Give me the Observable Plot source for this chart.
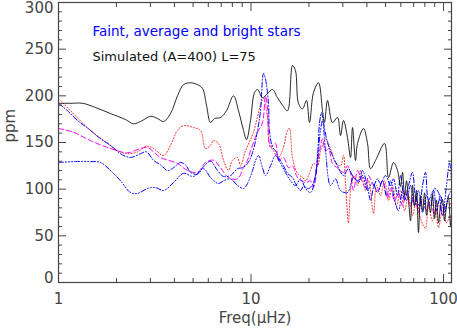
<!DOCTYPE html>
<html><head><meta charset="utf-8">
<script src="https://cdn.jsdelivr.net/npm/d3@7"></script>
<script src="https://cdn.jsdelivr.net/npm/@observablehq/plot@0.6"></script>
<style>
html,body{margin:0;padding:0;background:#fff;}
#chart svg{display:block;}
</style></head><body><div id="chart"></div>
<script>
// ---- data (frequency in µHz, amplitude in ppm) ----
const blackFreq = [1.0,1.154,1.333,1.556,1.863,2.229,2.452,2.667,3.006,3.268,3.512,3.818,4.152,4.46,4.85,5.273,5.598,5.872,6.16,6.462,6.943,7.459,8.11,8.609,9.141,9.475,9.94,10.43,10.81,11.47,12.18,12.93,13.72,14.57,15.47,16.42,17.02,17.64,18.51,19.42,20.13,21.12,22.42,23.52,24.09,24.97,26.5,28.13,29.17,30.23,31.7,32.88,33.67,34.9,35.74,38.41,40.29,41.76,44.33,49.38,51.8,54.99,57.68,59.79,61.25,62.7,64.2,65.8,67.4,69.0,70.7,72.4,74.1,75.9,77.8,79.7,81.6,83.5,85.6,87.6,89.8,91.9,94.2,96.5,98.8,101.2,103.6,106.1,108.7,110];
const blackPpm  = [192,192,192,187.5,181,174.6,170,172.5,178,175.7,172.5,181,200,212,214,212,208,190,171.4,175.7,176.8,184,200,184,163,153,173.6,203.6,206.8,198,202.5,206.8,198,190,184,232.5,227,192,186,195,171.4,203.6,214,184,171.4,195,171.4,176.8,157.5,173.6,155.4,134,166,130.7,149,165,149,122,130.7,149,112.5,128.6,120,103,118,93,109,88,66,104,82,98.6,53.6,93,77,96,72,88,75,95,68.6,88,64,82,89,66,82,91,61,72];

const redFreq = [1.0,1.154,1.466,1.797,2.025,2.283,2.573,2.865,3.116,3.512,3.818,4.152,4.46,5.027,5.466,5.802,6.16,6.385,6.779,7.197,7.64,8.014,8.507,8.819,9.362,10.30,11.20,11.61,12.18,12.47,13.08,13.89,14.75,15.47,15.84,16.42,17.43,18.51,19.19,20.38,21.12,22.15,22.96,23.52,24.38,25.88,27.47,29.17,30.23,30.96,32.08,32.88,34.08,35.74,37.06,39.33,40.77,43.28,44.86,47.07,49.38,51.8,54.33,57.0,59.79,62.7,65.8,69.0,72.4,75.9,80.6,83.5,87.6,90.9,94.2,98.8,103.6,108.7,110];
const redPpm  = [197,184,163,149,141.4,138,140,146,143.6,136,147,163,168,166,163,143.6,147,152,149,131,120,131,134,125,141,161,190,197,176,149,141,134,145,163,165,134,117,112.5,109,120,127.5,125,141,147,154,143.6,128.6,125,136,107,64,98.6,114.6,104,120,98.6,109,74,104,93,109,88,104,82,98.6,77,93,72,88,68.6,58,82,66,79,59,77,64,72,68.6];

const magentaFreq = [1.0,1.196,1.466,1.863,2.283,2.667,2.899,3.388,4.152,4.678,5.273,5.802,6.385,6.943,7.64,8.507,9.141,9.589,9.94,10.81,11.47,11.89,12.18,12.63,13.40,13.89,14.75,15.66,16.42,17.43,19.19,20.38,21.12,22.42,23.52,24.38,25.27,26.5,28.47,30.23,31.7,32.88,34.08,35.74,37.06,39.33,40.77,42.77,45.4,48.21,51.18,53.05,55.64,58.37,61.25,64.2,67.4,70.7,74.1,77.8,81.6,85.6,89.8,94.2,98.8,103.6,110];
const magentaPpm  = [165,161,152,143.6,139,143.6,144.6,134,127.5,120,118,128.6,131,123,112.5,111,123,131,141,161,171,200,187,145,149,131,134,123,125,112.5,107,109,102,134,154,141,143.6,127.5,122,118,125,117,98.6,120,112.5,102,114.6,106,98.6,109,90,100.7,88,95.4,82,98.6,82,93,75,89.6,77,88,72,85.7,72,82.5,84.6];

const blueAFreq = [1.0,1.114,1.255,1.466,1.653,1.863,2.1,2.366,2.667,2.865,3.116,3.388,3.684,3.958,4.303,4.568,4.85,5.273,5.665,6.16,6.698,7.197,7.825,8.507,9.032,9.589,10.18,10.81,11.2,11.61,11.89,12.32,12.47,12.93,13.4,13.89,14.75,15.47,16.42,17.02,18.08,18.73,19.89,21.12,22.15,22.69,23.24,23.8,24.97,26.5,28.13,30.23,32.08,34.08,36.17,37.95,40.29,41.76,43.28,45.4,47.07,49.97,53.05,54.99,57.68,59.79,62.7,65.8,69.0,71.5,75.0,77.8,80.6,83.5,88.7,91.9,96.5,101.2,106.1,110];
const blueAPpm  = [192,184,173.6,163,154,147,138,134,138,140,131,126,120,123,128.6,126,118,116,124,130,120,113.6,114.6,122,123,127.5,139,163,184,224,218,192,163,145,141,134,125,117,112.5,106,98.6,103,100.7,107,136,171,182,171,150,136,125,114.6,122,112.5,109,120,102,88,102,111,106,114.6,104,111,93,114.6,88,104,118,93,82.5,104,118,88,98.6,77,93,75,93,98.6];

const blueBFreq = [1.0,1.225,1.466,1.653,1.863,2.1,2.366,2.573,2.899,3.191,3.512,3.958,4.46,5.027,5.665,6.16,6.779,7.197,7.825,8.507,9.141,9.589,10.18,10.55,10.94,11.47,11.89,12.63,13.4,14.23,15.1,16.04,17.02,18.08,19.19,20.38,21.63,22.96,23.52,24.38,25.88,27.47,29.17,31.7,34.08,36.17,37.95,40.29,42.77,45.4,48.21,50.57,53.05,55.64,58.37,61.25,64.2,67.4,70.7,74.1,77.8,81.6,85.6,89.8,94.2,98.8,103.6,107.4,110];
const blueBPpm  = [128.6,129.6,129.6,128.6,120,109,96.4,95.4,100.7,101.8,98.6,107,117,113.6,122,112.5,106,109,111,104,100.7,106,120,130.7,136,123,114.6,125,136,127.5,118,109,104,111,100.7,96.4,114.6,163,173.6,141,104,111,98.6,96.4,112.5,107,114.6,98.6,107,96.4,109,93,109,88,77,98.6,88,104,82.5,98.6,75,93,82.5,100.7,96.4,72,104,128.6,109];

// ---- axis ticks and labels ----
const xMajorTicks = [1, 10, 100];
const xMinorTicks = [2,3,4,5,6,7,8,9,20,30,40,50,60,70,80,90];
const yMajorTicks = [0, 50, 100, 150, 200, 250, 300];
const yMinorTicks = [10,20,30,40,60,70,80,90,110,120,130,140,160,170,180,190,210,220,230,240,260,270,280,290];
const yLabelTop = [300];
const yLabelMid = [50, 100, 150, 200, 250];
const yLabelBottom = [0];
const legendLines = ["Faint, average and bright stars", "Simulated (A=400) L=75"];
const xTitle = "Freq(μHz)";
const yTitle = "ppm";

const zip = (fs, vs) => fs.map((f, i) => ({f, v: vs[i]}));
const black = zip(blackFreq, blackPpm);
const red = zip(redFreq, redPpm);
const magenta = zip(magentaFreq, magentaPpm);
const blueA = zip(blueAFreq, blueAPpm);
const blueB = zip(blueBFreq, blueBPpm);

const axisCol = "#444";
const blank = () => "";
const curve = "catmull-rom";

const chart = Plot.plot({
  width: 457,
  height: 330,
  marginLeft: 58,
  marginRight: 6,
  marginTop: 2,
  marginBottom: 48,
  style: {fontFamily: "'DejaVu Sans', sans-serif", fontSize: "15px", color: axisCol, background: "#fff"},
  x: {type: "log", domain: [1, 110]},
  y: {domain: [0, 300]},
  marks: [
    Plot.line(red, {x: "f", y: "v", stroke: "#ff2020", strokeWidth: 1, strokeDasharray: "1,2", curve, clip: true}),
    Plot.line(magenta, {x: "f", y: "v", stroke: "#ff00ff", strokeWidth: 1, strokeDasharray: "5,3", curve, clip: true}),
    Plot.line(blueB, {x: "f", y: "v", stroke: "#0000ff", strokeWidth: 1, strokeDasharray: "5,2,1,2,1,2,1,2", curve, clip: true}),
    Plot.line(blueA, {x: "f", y: "v", stroke: "#0000ff", strokeWidth: 1, strokeDasharray: "5,2,1,2", curve, clip: true}),
    Plot.line(black, {x: "f", y: "v", stroke: "#111", strokeWidth: 0.9, curve, clip: true}),
    Plot.frame({stroke: axisCol, strokeWidth: 1.2}),
    // y ticks (inward) on both sides
    Plot.axisY(yMajorTicks, {anchor: "left", tickSize: -8, tickFormat: blank, label: null, stroke: axisCol}),
    Plot.axisY(yMinorTicks, {anchor: "left", tickSize: -4, tickFormat: blank, label: null, stroke: axisCol}),
    Plot.axisY(yMajorTicks, {anchor: "right", tickSize: -8, tickFormat: blank, label: null, stroke: axisCol}),
    Plot.axisY(yMinorTicks, {anchor: "right", tickSize: -4, tickFormat: blank, label: null, stroke: axisCol}),
    // y tick labels (extreme labels nudged inside the range, IDL style)
    Plot.axisY(yLabelTop, {anchor: "left", tickSize: 0, tickPadding: 5, dy: 6, label: null}),
    Plot.axisY(yLabelMid, {anchor: "left", tickSize: 0, tickPadding: 5, label: null}),
    Plot.axisY(yLabelBottom, {anchor: "left", tickSize: 0, tickPadding: 5, dy: -4, label: null}),
    // x ticks (inward) on both sides
    Plot.axisX(xMajorTicks, {anchor: "bottom", tickSize: -8, tickFormat: blank, label: null, stroke: axisCol}),
    Plot.axisX(xMinorTicks, {anchor: "bottom", tickSize: -4, tickFormat: blank, label: null, stroke: axisCol}),
    Plot.axisX(xMajorTicks, {anchor: "top", tickSize: -8, tickFormat: blank, label: null, stroke: axisCol}),
    Plot.axisX(xMinorTicks, {anchor: "top", tickSize: -4, tickFormat: blank, label: null, stroke: axisCol}),
    Plot.axisX(xMajorTicks, {anchor: "bottom", tickSize: 0, tickPadding: 11, label: null}),
    Plot.text([xTitle], {frameAnchor: "bottom", dy: 40, fontSize: 15, fill: axisCol}),
    Plot.text([yTitle], {frameAnchor: "left", dx: -48, rotate: -90, fontSize: 15, fill: axisCol}),
    Plot.text([legendLines[0]], {frameAnchor: "top-left", dx: 34, dy: 24, textAnchor: "start", fontSize: 13.5, fill: "#0000ff"}),
    Plot.text([legendLines[1]], {frameAnchor: "top-left", dx: 34, dy: 49, textAnchor: "start", fontSize: 13, fill: "#111"})
  ]
});
document.getElementById("chart").appendChild(chart);
</script>
</body></html>
